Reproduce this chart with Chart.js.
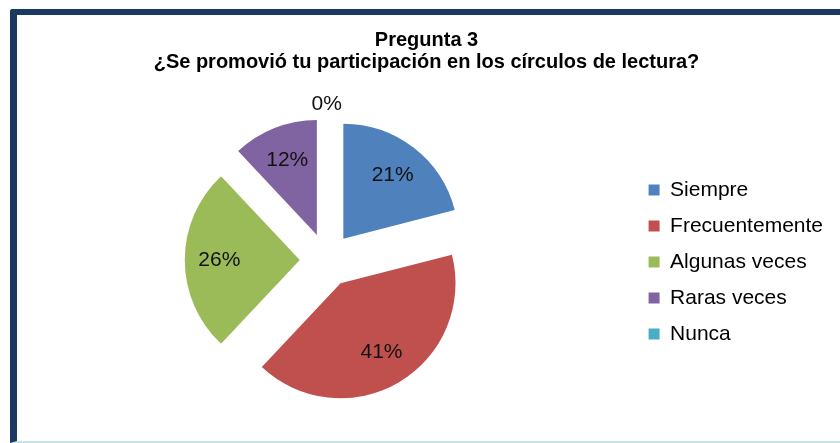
<!DOCTYPE html>
<html>
<head>
<meta charset="utf-8">
<script src="https://cdn.jsdelivr.net/npm/chart.js@4.4.1/dist/chart.umd.min.js"></script>
<style>
  html, body { margin: 0; padding: 0; background: #ffffff; width: 840px; height: 443px; overflow: hidden; }
  #frame { position: absolute; left: 10px; top: 9px; width: 840px; height: 426px;
           border-left: 7px solid #1c3a60; border-top: 6px solid #1c3a60; border-top-left-radius: 3px;
           border-bottom: 2px solid #c9e3ee; background: #ffffff; }
  #wrap { position: absolute; left: 17px; top: 15px; width: 823px; height: 426px; }
</style>
</head>
<body>
<div id="frame"></div>
<div id="wrap"><canvas id="c" width="823" height="426"></canvas></div>
<script>
const titleLines = ['Pregunta 3', '¿Se promovió tu participación en los círculos de lectura?'];
const categories = ['Siempre', 'Frecuentemente', 'Algunas veces', 'Raras veces', 'Nunca'];
const percentages = [21, 41, 26, 12, 0];
const sliceColors = ['#4f81bd', '#c0504d', '#9bbb59', '#8064a2', '#4bacc6'];

const FONT = "'Liberation Sans', Arial, sans-serif";
const EXPLODE = 27; // px each slice is pulled out along its bisector

// Draw each library arc element translated along its bisector (exploded pie)
const explodedPie = {
  id: 'explodedPie',
  beforeDatasetsDraw(chart) {
    const ctx = chart.ctx;
    const meta = chart.getDatasetMeta(0);
    meta.data.forEach((arc) => {
      const p = arc.getProps(['startAngle', 'endAngle'], true);
      const mid = (p.startAngle + p.endAngle) / 2;
      ctx.save();
      ctx.translate(Math.cos(mid) * EXPLODE, Math.sin(mid) * EXPLODE);
      arc.draw(ctx, chart.chartArea);
      ctx.restore();
    });
    return false;
  },
  afterDraw(chart) {
    const ctx = chart.ctx;
    const meta = chart.getDatasetMeta(0);
    ctx.save();
    ctx.font = '21px ' + FONT;
    ctx.fillStyle = '#111111';
    ctx.textAlign = 'center';
    ctx.textBaseline = 'middle';
    meta.data.forEach((arc, i) => {
      const p = arc.getProps(['x', 'y', 'startAngle', 'endAngle', 'outerRadius'], true);
      const mid = (p.startAngle + p.endAngle) / 2;
      const v = percentages[i];
      const d = v > 0 ? EXPLODE + 0.7 * p.outerRadius : EXPLODE + p.outerRadius + 14;
      ctx.fillText(v + '%', p.x + Math.cos(mid) * d, p.y + Math.sin(mid) * d);
    });
    ctx.restore();
  }
};

new Chart(document.getElementById('c'), {
  type: 'pie',
  data: {
    labels: categories,
    datasets: [{
      data: percentages,
      backgroundColor: sliceColors,
      borderWidth: 0
    }]
  },
  options: {
    responsive: false,
    animation: false,
    radius: 115,
    layout: { padding: { left: 3, right: 7, top: 0, bottom: 4 } },
    plugins: {
      title: {
        display: true,
        text: titleLines,
        color: '#000000',
        font: { family: FONT, size: 20, weight: 'bold', lineHeight: 1.1 },
        padding: { top: 14, bottom: 10 }
      },
      legend: {
        position: 'right',
        title: {
          display: true,
          text: ' ',
          font: { family: FONT, size: 36, lineHeight: 1 },
          padding: { top: 18, bottom: 18 }
        },
        labels: {
          color: '#000000',
          font: { family: FONT, size: 21 },
          boxWidth: 11,
          boxHeight: 11,
          padding: 15
        }
      },
      tooltip: { enabled: false }
    }
  },
  plugins: [explodedPie]
});
</script>
</body>
</html>
